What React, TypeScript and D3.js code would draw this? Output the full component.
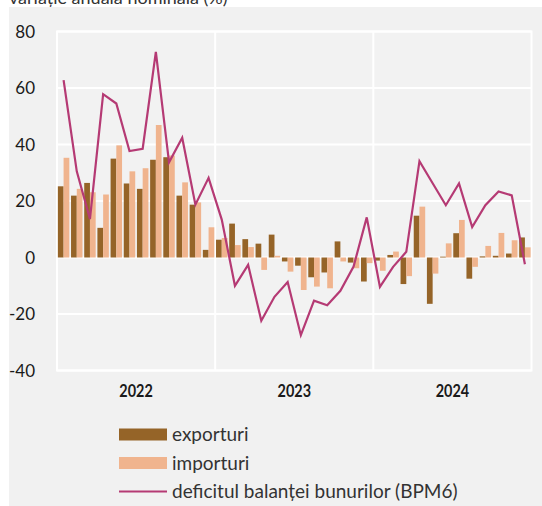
import React from "react";
import * as d3 from "d3";

const years = ["2022", "2023", "2024"];
const months = d3.range(36);
const exporturi = [25.2, 21.9, 26.4, 10.5, 35.0, 26.2, 24.3, 34.6, 35.5, 21.9, 18.7, 2.7,
  6.3, 12.0, 6.5, 4.9, 8.1, -1.4, -2.9, -7.0, -5.3, 5.7, -1.8, -8.5,
  -1.1, 0.9, -9.4, 14.8, -16.4, 0.3, 8.6, -7.5, 0.4, 0.6, 1.4, 7.1];
const importuri = [35.3, 24.3, 23.1, 22.3, 39.7, 30.5, 31.6, 46.9, 36.1, 26.6, 19.5, 10.7,
  6.9, 4.4, 3.7, -4.4, 0.6, -5.0, -11.5, -10.3, -10.9, -1.4, -3.8, -2.0,
  -4.7, 2.1, -6.6, 18.0, -5.7, 5.0, 13.3, -3.3, 4.1, 8.7, 6.1, 3.6];
const deficit = [62.8, 30.5, 13.6, 57.8, 54.5, 37.7, 38.5, 72.8, 33.7, 42.4, 18.7, 28.2,
  13.4, -10.0, -2.6, -22.4, -13.9, -8.7, -27.5, -15.3, -16.9, -11.8, -3.2, 14.2,
  -10.4, -3.3, 2.0, 34.1, 26.3, 18.5, 26.2, 10.8, 18.5, 23.4, 22.0, -2.4];
const yTicks = [80, 60, 40, 20, 0, -20, -40];
const seriesNames = ["exporturi", "importuri", "deficitul balanței bunurilor (BPM6)"];
const title = "variație anuală nominală (%)";

const W = 542, H = 506;
const L = 57, R = 531.5, T = 31.5, B = 370.5;
const cExp = "#956428", cImp = "#f0b48e", cLine = "#b53a74";
const font = "Lato, 'Open Sans', sans-serif";

export default function App() {
  const x = d3.scaleBand<number>().domain(months).range([L, R]).padding(0);
  const x1 = d3.scaleBand<string>().domain(["e", "i"]).range([0, x.bandwidth()]).paddingInner(0).paddingOuter(0.15);
  const y = d3.scaleLinear().domain([-40, 80]).range([B, T]);
  const yearX = d3.scaleBand<string>().domain(years).range([L, R]);
  const line = d3.line<number>().x((_, i) => (x(i) as number) + x.bandwidth() / 2).y(d => y(d));
  const bar = (v: number, i: number, key: string, color: string) => (
    <rect key={key + i} x={(x(i) as number) + (x1(key) as number)} width={x1.bandwidth()}
      y={Math.min(y(v), y(0))} height={Math.abs(y(v) - y(0))} fill={color} />
  );
  return (
    <svg width={W} height={H} style={{ position: "absolute", left: 0, top: 0, background: "#fff" }}>
      <rect x={9} y={7} width={W - 9} height={H - 7} fill="#f1f1f1" />
      <text x={9} y={4} fontFamily={font} fontSize={18} fill="#333">{title}</text>
      <rect x={L} y={T} width={R - L} height={B - T} fill="#f2f2f2" />
      {yTicks.map(t => (
        <g key={t}>
          <line x1={L} x2={R} y1={y(t)} y2={y(t)} stroke="#fff" strokeWidth={2} />
          <text x={35} y={y(t)} dy="0.36em" textAnchor="end" fontFamily={font} fontSize={17} fill="#1a1a1a">{t}</text>
        </g>
      ))}
      {years.map((yr) => {
        const cx = (yearX(yr) as number) + yearX.bandwidth() / 2;
        return (
          <g key={yr}>
            <line x1={yearX(yr) as number} x2={yearX(yr) as number} y1={T} y2={B} stroke="#fff" strokeWidth={2} />
            <text transform={`translate(${cx},397) scale(0.85,1)`} textAnchor="middle" fontFamily={font} fontWeight={700} fontSize={17} fill="#1a1a1a">{yr}</text>
          </g>
        );
      })}
      <rect x={L} y={T} width={R - L} height={B - T} fill="none" stroke="#fff" strokeWidth={2} />
      {exporturi.map((v, i) => bar(v, i, "e", cExp))}
      {importuri.map((v, i) => bar(v, i, "i", cImp))}
      <path d={line(deficit) || ""} fill="none" stroke={cLine} strokeWidth={2.2} strokeLinejoin="miter" />
      <g fontFamily={font} fontSize={19} fill="#333">
        <rect x={119} y={428.5} width={48} height={12} fill={cExp} />
        <text x={172} y={441}>{seriesNames[0]}</text>
        <rect x={119} y={457} width={48} height={12} fill={cImp} />
        <text x={172} y={469.5}>{seriesNames[1]}</text>
        <line x1={119} x2={167} y1={491.5} y2={491.5} stroke={cLine} strokeWidth={2} />
        <text x={172} y={498}>{seriesNames[2]}</text>
      </g>
    </svg>
  );
}
